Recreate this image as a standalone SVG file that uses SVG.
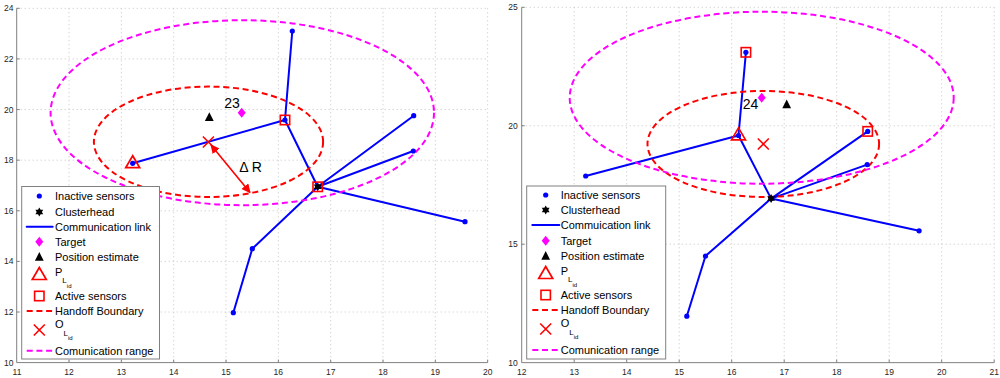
<svg xmlns="http://www.w3.org/2000/svg" width="1000" height="378" viewBox="0 0 1000 378">
<style>
text{font-family:"Liberation Sans",Arial,sans-serif;fill:#000}
.tk{font-size:8.5px;fill:#262626}
.lg{font-size:11px}
.big{font-size:14px}
.grid{stroke:#c4c4c4;stroke-width:1;stroke-dasharray:1 3;fill:none}
.axis{stroke:#808080;stroke-width:1;fill:none}
.link{stroke:#0000ff;stroke-width:2;fill:none;stroke-linecap:round}
.hand{stroke:#ff0000;stroke-width:2;fill:none;stroke-dasharray:6 3.7}
.comm{stroke:#ff00ff;stroke-width:2;fill:none;stroke-dasharray:6 3.7}
.box{fill:#fff;stroke:#808080;stroke-width:1}
</style>
<defs>
<circle id="dot" r="2.6" fill="#0000ff"/>
<path id="hex" d="M0,-4.5 L1.3,-2.25 L3.9,-2.25 L2.6,0 L3.9,2.25 L1.3,2.25 L0,4.5 L-1.3,2.25 L-3.9,2.25 L-2.6,0 L-3.9,-2.25 L-1.3,-2.25 Z" fill="#000"/>
<rect id="sq" x="-4.7" y="-4.7" width="9.4" height="9.4" fill="none" stroke="#ff0000" stroke-width="1.6"/>
<polygon id="tri" points="0,-6.8 7,5.2 -7,5.2" fill="none" stroke="#ff0000" stroke-width="1.7" stroke-linejoin="miter"/>
<path id="xm" d="M-5.5,-5.5 L5.5,5.5 M-5.5,5.5 L5.5,-5.5" stroke="#ff0000" stroke-width="1.6" fill="none"/>
<polygon id="dia" points="0,-5 4,0 0,5 -4,0" fill="#ff00ff"/>
<polygon id="est" points="0,-4.4 4.4,4.3 -4.4,4.3" fill="#000"/>
<marker id="ah" viewBox="0 0 10 10" refX="9" refY="5" markerWidth="9" markerHeight="9" markerUnits="userSpaceOnUse" orient="auto-start-reverse">
<path d="M0,0 L10,5 L0,10 Z" fill="#ff0000"/>
</marker>
</defs>

<!-- LEFT PLOT AXES -->
<g id="left-axes">
<path class="grid" d="M69.03,8.3V362.6 M121.36,8.3V362.6 M173.69,8.3V362.6 M226.02,8.3V362.6 M278.35,8.3V362.6 M330.68,8.3V362.6 M383.01,8.3V362.6 M435.34,8.3V362.6 M487.67,8.3V362.6 M16.7,8.3H487.7 M16.7,58.92H487.7 M16.7,109.54H487.7 M16.7,160.16H487.7 M16.7,210.78H487.7 M16.7,261.4H487.7 M16.7,312.02H487.7"/>
<path class="axis" d="M16.7,8.3V362.6H487.7"/>
<path class="axis" d="M16.7,8.3h3 M16.7,58.92h3 M16.7,109.54h3 M16.7,160.16h3 M16.7,210.78h3 M16.7,261.4h3 M16.7,312.02h3 M69.03,362.6v-3 M121.36,362.6v-3 M173.69,362.6v-3 M226.02,362.6v-3 M278.35,362.6v-3 M330.68,362.6v-3 M383.01,362.6v-3 M435.34,362.6v-3 M487.67,362.6v-3"/>
<g class="tk" text-anchor="end">
<text class="tk" x="13.5" y="11.3">24</text>
<text class="tk" x="13.5" y="61.9">22</text>
<text class="tk" x="13.5" y="112.5">20</text>
<text class="tk" x="13.5" y="163.2">18</text>
<text class="tk" x="13.5" y="213.8">16</text>
<text class="tk" x="13.5" y="264.4">14</text>
<text class="tk" x="13.5" y="315">12</text>
<text class="tk" x="13.5" y="365.6">10</text>
</g>
<g text-anchor="middle">
<text class="tk" x="17" y="374.5">11</text>
<text class="tk" x="69.03" y="374.5">12</text>
<text class="tk" x="121.36" y="374.5">13</text>
<text class="tk" x="173.69" y="374.5">14</text>
<text class="tk" x="226.02" y="374.5">15</text>
<text class="tk" x="278.35" y="374.5">16</text>
<text class="tk" x="330.68" y="374.5">17</text>
<text class="tk" x="383.01" y="374.5">18</text>
<text class="tk" x="435.34" y="374.5">19</text>
<text class="tk" x="487.67" y="374.5">20</text>
</g>
</g>

<!-- RIGHT PLOT AXES -->
<g id="right-axes">
<path class="grid" d="M574.2,7.3V362.65 M626.7,7.3V362.65 M679.2,7.3V362.65 M731.7,7.3V362.65 M784.2,7.3V362.65 M836.7,7.3V362.65 M889.2,7.3V362.65 M941.7,7.3V362.65 M994.2,7.3V362.65 M521.7,7.3H994.2 M521.7,125.75H994.2 M521.7,244.2H994.2"/>
<path class="axis" d="M521.7,7.3V362.65H994.2"/>
<path class="axis" d="M521.7,7.3h3 M521.7,125.75h3 M521.7,244.2h3 M574.2,362.65v-3 M626.7,362.65v-3 M679.2,362.65v-3 M731.7,362.65v-3 M784.2,362.65v-3 M836.7,362.65v-3 M889.2,362.65v-3 M941.7,362.65v-3 M994.2,362.65v-3"/>
<g text-anchor="end">
<text class="tk" x="517.8" y="10.3">25</text>
<text class="tk" x="517.8" y="128.8">20</text>
<text class="tk" x="517.8" y="247.2">15</text>
<text class="tk" x="517.8" y="365.6">10</text>
</g>
<g text-anchor="middle">
<text class="tk" x="521.7" y="374.5">12</text>
<text class="tk" x="574.2" y="374.5">13</text>
<text class="tk" x="626.7" y="374.5">14</text>
<text class="tk" x="679.2" y="374.5">15</text>
<text class="tk" x="731.7" y="374.5">16</text>
<text class="tk" x="784.2" y="374.5">17</text>
<text class="tk" x="836.7" y="374.5">18</text>
<text class="tk" x="889.2" y="374.5">19</text>
<text class="tk" x="941.7" y="374.5">20</text>
<text class="tk" x="994.2" y="374.5">21</text>
</g>
</g>

<!-- CONNECTORS -->
<g id="connectors">
<path class="link" d="M317.7,186.8L285,120 M317.7,186.8L413.7,115.7 M317.7,186.8L413.3,151 M317.7,186.8L465,221.7 M317.7,186.8L252.3,248.7 M285,120L292.3,31 M285,120L132.7,163.3 M252.3,248.7L233.3,312.7"/>
<path class="link" d="M771.1,198.6L738.5,135.5 M771.1,198.6L867.7,131.4 M771.1,198.6L867.2,164.6 M771.1,198.6L919.1,230.8 M771.1,198.6L705.5,256 M738.5,135.5L745.9,52.3 M738.5,135.5L585.7,176 M705.5,256L686.8,316.2"/>
<line x1="211" y1="145" x2="250" y2="192.5" stroke="#ff0000" stroke-width="1.6" marker-start="url(#ah)" marker-end="url(#ah)"/>
</g>

<!-- BOUNDARIES -->
<g id="left-boundaries">
<ellipse class="hand" cx="208.5" cy="141.8" rx="114.6" ry="55.2"/>
<ellipse class="comm" cx="242.3" cy="112.7" rx="191.7" ry="92.5"/>
</g>
<g id="right-boundaries">
<ellipse class="hand" cx="763.3" cy="144" rx="115.8" ry="53"/>
<ellipse class="comm" cx="761.7" cy="97.7" rx="192" ry="86"/>
</g>

<!-- LEFT NODES -->
<g id="L-sensor-A"><use href="#dot" x="132.7" y="163.3"/><use href="#tri" x="132.7" y="162.5"/></g>
<g id="L-sensor-B"><use href="#dot" x="285" y="120"/><use href="#sq" x="285" y="120"/></g>
<g id="L-sensor-C"><use href="#dot" x="292.3" y="31"/></g>
<g id="L-sensor-D"><use href="#dot" x="413.7" y="115.7"/></g>
<g id="L-sensor-E"><use href="#dot" x="413.3" y="151"/></g>
<g id="L-sensor-F"><use href="#dot" x="465" y="221.7"/></g>
<g id="L-sensor-G"><use href="#dot" x="252.3" y="248.7"/></g>
<g id="L-sensor-H"><use href="#dot" x="233.3" y="312.7"/></g>
<g id="L-clusterhead"><use href="#dot" x="317.7" y="186.8"/><use href="#hex" x="317.7" y="186.8"/><use href="#sq" x="317.7" y="186.8"/></g>
<g id="L-target"><use href="#dia" x="241.7" y="112.7"/><text class="big" x="224.3" y="108">23</text></g>
<g id="L-estimate"><use href="#est" x="209.3" y="116.7"/></g>
<g id="L-OL"><use href="#xm" x="208.4" y="142"/></g>
<g id="L-deltaR"><text class="big" x="239.3" y="171.7">Δ R</text></g>

<!-- RIGHT NODES -->
<g id="R-sensor-A"><use href="#dot" x="585.7" y="176"/></g>
<g id="R-sensor-B"><use href="#dot" x="738.5" y="135.5"/><use href="#tri" x="738.5" y="134.7"/></g>
<g id="R-sensor-C"><use href="#dot" x="745.9" y="52.3"/><use href="#sq" x="745.9" y="52.3"/></g>
<g id="R-sensor-D"><use href="#dot" x="867.7" y="131.4"/><use href="#sq" x="867.7" y="131.4"/></g>
<g id="R-sensor-E"><use href="#dot" x="867.2" y="164.6"/></g>
<g id="R-sensor-F"><use href="#dot" x="919.1" y="230.8"/></g>
<g id="R-sensor-G"><use href="#dot" x="705.5" y="256"/></g>
<g id="R-sensor-H"><use href="#dot" x="686.8" y="316.2"/></g>
<g id="R-clusterhead"><use href="#dot" x="771.1" y="198.6"/><use href="#hex" x="771.1" y="198.6"/></g>
<g id="R-target"><use href="#dia" x="761.7" y="97.7"/><text class="big" x="742.7" y="109.4">24</text></g>
<g id="R-estimate"><use href="#est" x="786.7" y="104"/></g>
<g id="R-OL"><use href="#xm" x="763.3" y="144"/></g>

<!-- LEFT LEGEND -->
<g id="L-legend">
<rect class="box" x="21.7" y="186.5" width="137.8" height="172.5"/>
<use href="#dot" x="39.3" y="196"/><text class="lg" x="55" y="199.9">Inactive sensors</text>
<use href="#hex" x="39.3" y="212"/><text class="lg" x="55" y="215.9">Clusterhead</text>
<line class="link" x1="26.7" y1="226.7" x2="52.7" y2="226.7" stroke-linecap="butt"/><text class="lg" x="55" y="230.6">Communication link</text>
<use href="#dia" x="39.3" y="241.7"/><text class="lg" x="55" y="245.6">Target</text>
<use href="#est" x="39.3" y="256.5"/><text class="lg" x="55" y="260.6">Position estimate</text>
<use href="#tri" x="39.3" y="274.3"/><text class="lg" x="55" y="275.5">P<tspan font-size="8px" dy="7.8">L</tspan><tspan font-size="6px" dy="4.2">id</tspan></text>
<use href="#sq" x="39.3" y="296"/><text class="lg" x="55" y="299.9">Active sensors</text>
<line class="hand" x1="26.7" y1="311" x2="52.7" y2="311"/><text class="lg" x="55" y="314.9">Handoff Boundary</text>
<use href="#xm" x="39.3" y="330"/><text class="lg" x="55" y="327.6">O<tspan font-size="8px" dy="8">L</tspan><tspan font-size="6px" dy="4.3">id</tspan></text>
<line class="comm" x1="26.7" y1="350.7" x2="52.7" y2="350.7"/><text class="lg" x="55" y="354.6">Comunication range</text>
</g>

<!-- RIGHT LEGEND -->
<g id="R-legend">
<rect class="box" x="526.7" y="186" width="139" height="173"/>
<use href="#dot" x="545.7" y="195"/><text class="lg" x="560.7" y="198.9">Inactive sensors</text>
<use href="#hex" x="545.7" y="210"/><text class="lg" x="560.7" y="213.9">Clusterhead</text>
<line class="link" x1="532.3" y1="225" x2="559.3" y2="225" stroke-linecap="butt"/><text class="lg" x="560.7" y="228.9">Commuication link</text>
<use href="#dia" x="545.7" y="240.7"/><text class="lg" x="560.7" y="244.6">Target</text>
<use href="#est" x="545.7" y="255.5"/><text class="lg" x="560.7" y="259.6">Position estimate</text>
<use href="#tri" x="545.7" y="273.3"/><text class="lg" x="560.7" y="274.5">P<tspan font-size="8px" dy="7.8">L</tspan><tspan font-size="6px" dy="4.2">id</tspan></text>
<use href="#sq" x="545.7" y="295"/><text class="lg" x="560.7" y="298.9">Active sensors</text>
<line class="hand" x1="532.3" y1="310" x2="559.3" y2="310"/><text class="lg" x="560.7" y="313.9">Handoff Boundary</text>
<use href="#xm" x="545.7" y="329"/><text class="lg" x="560.7" y="326.6">O<tspan font-size="8px" dy="8">L</tspan><tspan font-size="6px" dy="4.3">id</tspan></text>
<line class="comm" x1="532.3" y1="350" x2="559.3" y2="350"/><text class="lg" x="560.7" y="353.9">Comunication range</text>
</g>
</svg>
